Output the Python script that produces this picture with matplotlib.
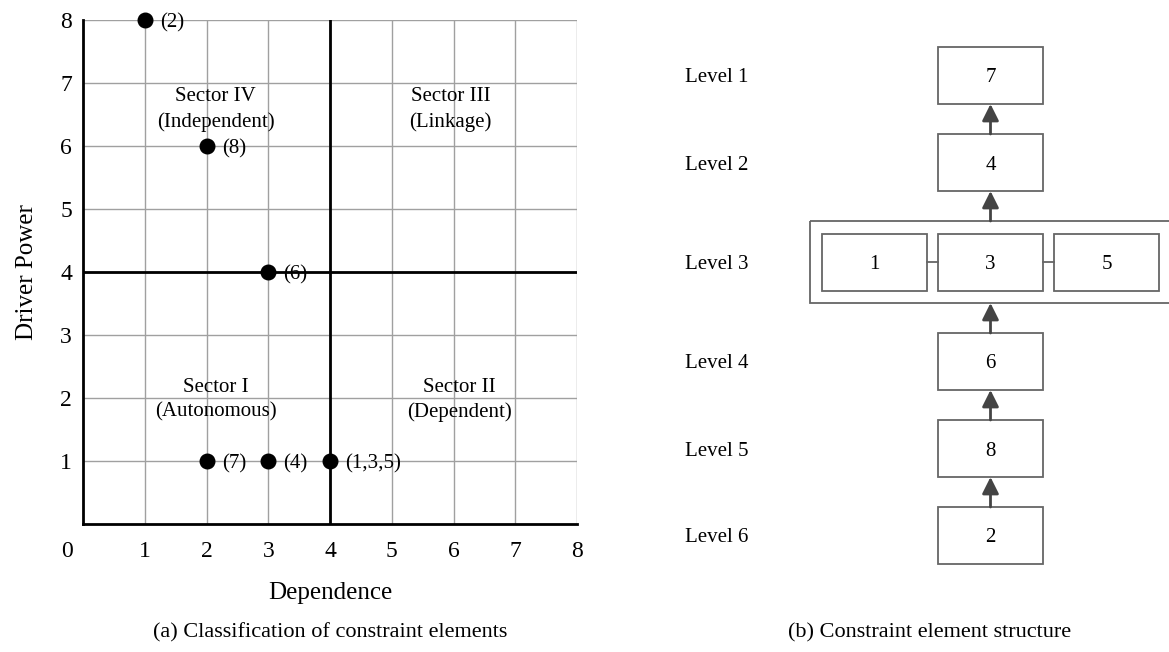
import numpy as np
import matplotlib
matplotlib.use("Agg")
import matplotlib.pyplot as plt
from matplotlib.patches import Rectangle, FancyArrowPatch

plt.rcParams['font.family'] = ['Liberation Serif', 'DejaVu Serif']

# constraint elements, their dependence and driver power
elements = [1, 2, 3, 4, 5, 6, 7, 8]
dependence = [4, 1, 4, 3, 4, 3, 2, 2]
driver_power = [1, 8, 1, 1, 1, 4, 1, 6]

sector_names = ["Sector IV\n(Independent)", "Sector III\n(Linkage)",
                "Sector I\n(Autonomous)", "Sector II\n(Dependent)"]
sector_x = [2.15, 5.95, 2.15, 6.1]
sector_y = [6.58, 6.58, 1.97, 1.97]

# ISM levels (top to bottom) and elements in each
level_names = ["Level 1", "Level 2", "Level 3", "Level 4", "Level 5", "Level 6"]
level_elements = [["7"], ["4"], ["1", "3", "5"], ["6"], ["8"], ["2"]]

W, H = 1169, 652
fig = plt.figure(figsize=(W / 100, H / 100), dpi=100)

# ---- (a) MICMAC chart
ax = fig.add_axes([83 / W, 1 - 524 / H, 494 / W, 504 / H])
ax.set_xlim(0, 8)
ax.set_ylim(0, 8)
ax.set_xticks(range(1, 9))
ax.set_yticks(range(1, 9))
ax.grid(True, color='#a0a0a0', linewidth=1.0)
ax.set_axisbelow(True)
for s in ['top', 'right']:
    ax.spines[s].set_visible(False)
for s in ['left', 'bottom']:
    ax.spines[s].set_linewidth(2)
    ax.spines[s].set_color('black')
ax.tick_params(axis='x', length=0, labelsize=17, pad=12)
ax.tick_params(axis='y', length=0, labelsize=17, pad=8)
ax.text(-0.26, -0.4, "0", fontsize=17, ha='center', va='center_baseline')

ax.axvline(4, color='black', linewidth=2, zorder=2)
ax.axhline(4, color='black', linewidth=2, zorder=2)

# group elements that share a position
groups = {}
for e, dx, dy in zip(elements, dependence, driver_power):
    groups.setdefault((dx, dy), []).append(str(e))
for (dx, dy), names in groups.items():
    ax.scatter(dx, dy, s=110, color='black', zorder=4, clip_on=False)
    ax.annotate("(" + ",".join(names) + ")", (dx, dy), xytext=(11, 0),
                textcoords='offset points', fontsize=15, va='center_baseline',
                ha='left', zorder=5)

for name, sx, sy in zip(sector_names, sector_x, sector_y):
    ax.text(sx, sy, name, fontsize=15, ha='center', va='center', linespacing=1.4)

ax.set_xlabel("Dependence", fontsize=18, labelpad=15)
ax.set_ylabel("Driver Power", fontsize=18, labelpad=16)

# ---- (b) level structure, drawn in pixel units
ax2 = fig.add_axes([0, 0, 1, 1])
ax2.set_xlim(0, W)
ax2.set_ylim(H, 0)
ax2.axis('off')

cx = 990.5
bw, bh = 105, 57
gap = 30
pad = 12.5
step = 116
edge = '#666666'
arrow_col = '#444444'

y = 47
prev_bottom = None
for name, elems in zip(level_names, level_elements):
    if len(elems) > 1:
        outer_h = bh + 2 * pad
        outer_w = len(elems) * bw + (len(elems) - 1) * (step - bw) + 2 * pad
        ax2.add_patch(Rectangle((cx - outer_w / 2, y), outer_w, outer_h,
                                fill=False, edgecolor=edge, linewidth=1.3))
        top = y
        by = y + pad
        bottom = y + outer_h
    else:
        top = y
        by = y
        bottom = y + bh
    xs = [cx + (i - (len(elems) - 1) / 2) * step for i in range(len(elems))]
    for i, (bx, el) in enumerate(zip(xs, elems)):
        ax2.add_patch(Rectangle((bx - bw / 2, by), bw, bh, fill=False,
                                edgecolor=edge, linewidth=1.3))
        ax2.text(bx, by + bh / 2, el, fontsize=15, ha='center', va='center_baseline')
        if i > 0:
            ax2.plot([xs[i - 1] + bw / 2, bx - bw / 2], [by + bh / 2] * 2,
                     color=edge, linewidth=1.3)
    ax2.text(685, by + bh / 2, name, fontsize=15, ha='left', va='center_baseline')
    if prev_bottom is not None:
        ax2.add_patch(FancyArrowPatch((cx, top), (cx, prev_bottom),
                                      arrowstyle='-|>,head_length=1.0,head_width=0.5',
                                      color=arrow_col, linewidth=2,
                                      shrinkA=0, shrinkB=0, mutation_scale=10))
    prev_bottom = bottom
    y = bottom + gap

fig.text(330 / W, 1 - 633 / H, "(a) Classification of constraint elements",
         fontsize=16, ha='center', va='center')
fig.text(930 / W, 1 - 633 / H, "(b) Constraint element structure",
         fontsize=16, ha='center', va='center')

fig.savefig("out.png", dpi=100)
